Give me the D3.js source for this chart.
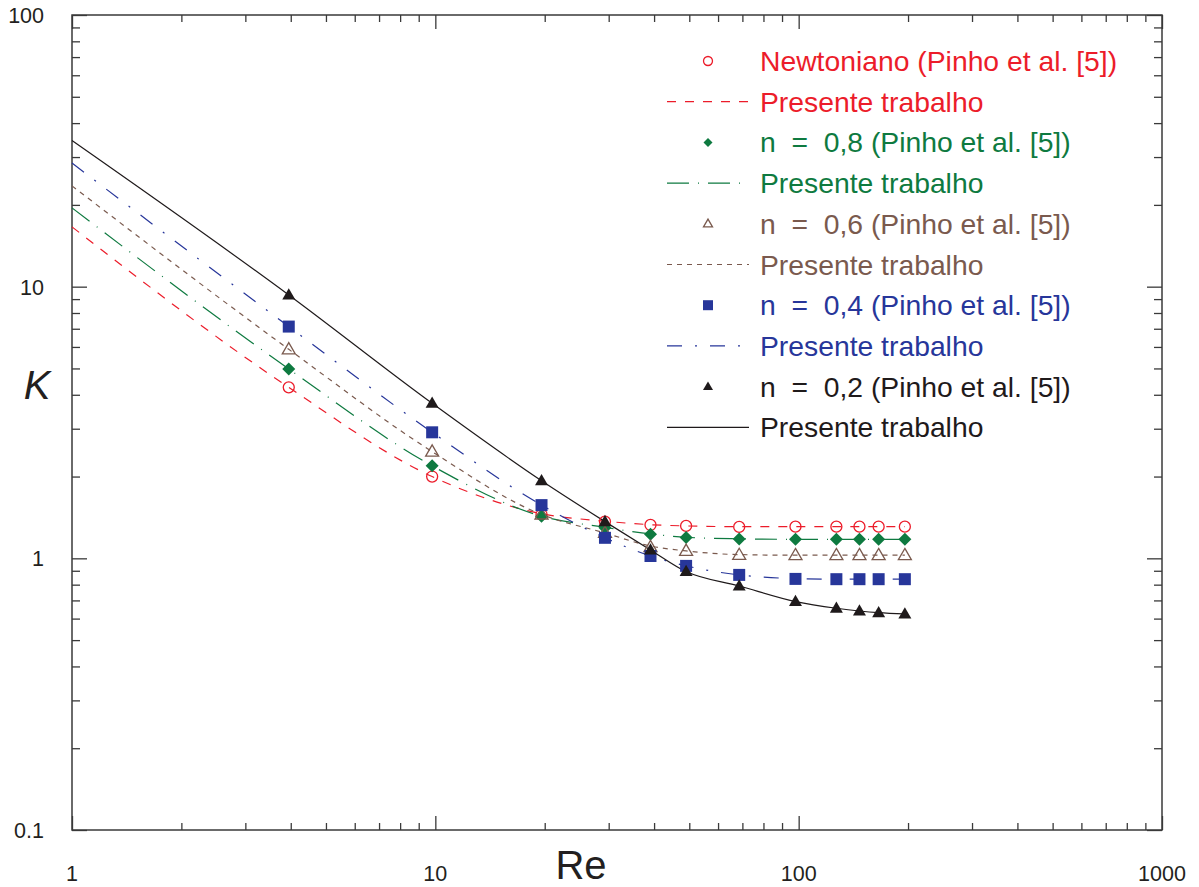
<!DOCTYPE html>
<html>
<head>
<meta charset="utf-8">
<script src="https://cdn.jsdelivr.net/npm/d3@7"></script>
<style>
  html, body { margin: 0; padding: 0; background: #fff; }
  svg { display: block; font-family: "Liberation Sans", Arial, sans-serif; }
  .leg { white-space: pre; }
</style>
</head>
<body>
<svg id="chart" width="1199" height="887"></svg>
<script>
// Reynolds numbers of the reference (Pinho et al.) data points
const reData = [3.95, 9.8, 19.6, 29.3, 39.1, 49, 68.6, 98, 127, 147, 166, 196];
// Reynolds numbers where the present-work curves are sampled
const reSim = [1, 3.95, 9.8, 19.6, 29.3, 39.1, 49, 68.6, 98, 127, 147, 166, 196];

// K values, reference data
const kNewt = [4.26, 2.00, 1.45, 1.365, 1.327, 1.316, 1.305, 1.308, 1.308, 1.308, 1.308, 1.308];
const kN08  = [4.98, 2.19, 1.43, 1.297, 1.227, 1.192, 1.179, 1.175, 1.175, 1.175, 1.175, 1.175];
const kN06  = [5.88, 2.47, 1.45, 1.24, 1.10, 1.065, 1.029, 1.027, 1.027, 1.027, 1.027, 1.027];
const kN04  = [7.13, 2.91, 1.57, 1.19, 1.02, 0.938, 0.869, 0.840, 0.838, 0.838, 0.838, 0.838];
const kN02  = [9.32, 3.72, 1.93, 1.365, 1.074, 0.894, 0.791, 0.693, 0.655, 0.640, 0.631, 0.624];

// K values, present work
const simNewt = [16.6, 4.26, 2.00, 1.46, 1.37, 1.33, 1.316, 1.308, 1.308, 1.308, 1.308, 1.308, 1.308];
const simN08  = [19.5, 4.98, 2.19, 1.43, 1.30, 1.23, 1.195, 1.18, 1.175, 1.175, 1.175, 1.175, 1.175];
const simN06  = [23.5, 5.88, 2.47, 1.45, 1.24, 1.11, 1.065, 1.032, 1.027, 1.027, 1.027, 1.027, 1.027];
const simN04  = [28.5, 7.13, 2.91, 1.57, 1.19, 1.02, 0.938, 0.869, 0.842, 0.838, 0.838, 0.838, 0.838];
const simN02  = [34.5, 9.32, 3.72, 1.93, 1.365, 1.074, 0.894, 0.791, 0.693, 0.655, 0.640, 0.631, 0.624];

const xTickLabels = ["1", "10", "100", "1000"];
const yTickLabels = ["0.1", "1", "10", "100"];

const legendLabels = [
  "Newtoniano (Pinho et al. [5])", "Presente trabalho",
  "n  =  0,8 (Pinho et al. [5])", "Presente trabalho",
  "n  =  0,6 (Pinho et al. [5])", "Presente trabalho",
  "n  =  0,4 (Pinho et al. [5])", "Presente trabalho",
  "n  =  0,2 (Pinho et al. [5])", "Presente trabalho"
];

const colors = { red: "#ec1c2a", green: "#0e7a40", brown: "#7a5a4e", blue: "#27369a", black: "#1f1a1b" };

const series = [
  { k: kNewt, sim: simNewt, color: colors.red,   marker: "circle",   dash: "9,9" },
  { k: kN08,  sim: simN08,  color: colors.green, marker: "diamond",  dash: "22,9,1,9" },
  { k: kN06,  sim: simN06,  color: colors.brown, marker: "triOpen",  dash: "5,5" },
  { k: kN04,  sim: simN04,  color: colors.blue,  marker: "square",   dash: "15,13,2,13" },
  { k: kN02,  sim: simN02,  color: colors.black, marker: "triangle", dash: null }
];

const svg = d3.select("#chart");
const plotLeft = 72, plotRight = 1162, plotTop = 15, plotBottom = 830;

const x = d3.scaleLog().domain([1, 1000]).range([plotLeft, plotRight]);
const y = d3.scaleLog().domain([0.1, 100]).range([plotBottom, plotTop]);

const axisColor = "#3a3a3a";

// tick values (decades and their minor subdivisions)
const xMinor = [], yMinor = [];
for (let d = 1; d < 1000; d *= 10) for (let m = 2; m <= 9; m++) xMinor.push(d * m);
for (let d = 0.1; d < 99; d *= 10) for (let m = 2; m <= 9; m++) yMinor.push(+(d * m).toPrecision(3));
const xMajor = [1, 10, 100, 1000], yMajor = [0.1, 1, 10, 100];

// axes drawn with inward ticks on all four sides
const gAx = svg.append("g");
gAx.append("g").attr("transform", `translate(0,${plotBottom})`)
  .call(d3.axisTop(x).tickValues(xMinor).tickSize(7).tickFormat(""));
gAx.append("g").attr("transform", `translate(0,${plotBottom})`)
  .call(d3.axisTop(x).tickValues(xMajor).tickSize(14).tickFormat(""));
gAx.append("g").attr("transform", `translate(0,${plotTop})`)
  .call(d3.axisBottom(x).tickValues(xMinor).tickSize(7).tickFormat(""));
gAx.append("g").attr("transform", `translate(0,${plotTop})`)
  .call(d3.axisBottom(x).tickValues(xMajor).tickSize(14).tickFormat(""));
gAx.append("g").attr("transform", `translate(${plotLeft},0)`)
  .call(d3.axisRight(y).tickValues(yMinor).tickSize(8).tickFormat(""));
gAx.append("g").attr("transform", `translate(${plotLeft},0)`)
  .call(d3.axisRight(y).tickValues(yMajor).tickSize(15).tickFormat(""));
gAx.append("g").attr("transform", `translate(${plotRight},0)`)
  .call(d3.axisLeft(y).tickValues(yMinor).tickSize(8).tickFormat(""));
gAx.append("g").attr("transform", `translate(${plotRight},0)`)
  .call(d3.axisLeft(y).tickValues(yMajor).tickSize(15).tickFormat(""));
gAx.selectAll("path.domain").remove();
gAx.selectAll("line").attr("stroke", axisColor).attr("stroke-width", 1.3);

// frame
svg.append("rect").attr("x", plotLeft).attr("y", plotTop)
  .attr("width", plotRight - plotLeft).attr("height", plotBottom - plotTop)
  .attr("fill", "none").attr("stroke", axisColor).attr("stroke-width", 1.5);

// tick labels
svg.append("g").selectAll("text").data(xMajor).join("text")
  .attr("x", d => x(d)).attr("y", 881)
  .attr("text-anchor", "middle").attr("font-size", 21.5).attr("fill", "#231f20")
  .text((d, i) => xTickLabels[i]);
svg.append("g").selectAll("text").data(yMajor).join("text")
  .attr("x", 44).attr("y", d => y(d) + 8)
  .attr("text-anchor", "end").attr("font-size", 21.5).attr("fill", "#231f20")
  .text((d, i) => yTickLabels[i]);

// axis titles
svg.append("text").attr("x", 581).attr("y", 879).attr("text-anchor", "middle")
  .attr("font-size", 40).attr("fill", "#231f20").text("Re");
svg.append("text").attr("x", 37).attr("y", 399).attr("text-anchor", "middle")
  .attr("font-size", 40).attr("font-style", "italic").attr("fill", "#231f20").text("K");

// marker symbol paths
function markerPath(type, s) {
  switch (type) {
    case "circle": return d3.symbol(d3.symbolCircle, s * s * 0.785)();
    case "diamond": return `M0,${-s/2}L${s/2},0L0,${s/2}L${-s/2},0Z`;
    case "square": return `M${-s/2},${-s/2}h${s}v${s}h${-s}Z`;
    default: {
      const h = s * 0.866;
      return `M0,${-h*0.6}L${s/2},${h*0.4}L${-s/2},${h*0.4}Z`;
    }
  }
}
function styleMarker(sel, d) {
  if (d.marker === "circle" || d.marker === "triOpen") {
    sel.attr("fill", "#fff").attr("fill-opacity", 0).attr("stroke", d.color).attr("stroke-width", 1.3);
  } else {
    sel.attr("fill", d.color).attr("stroke", "none");
  }
}
const markerSize = { circle: 11, diamond: 13, square: 12, triOpen: 13, triangle: 13 };

// present-work curves
const line = d3.line().x(d => x(d[0])).y(d => y(d[1])).curve(d3.curveMonotoneX);
const gLines = svg.append("g");
series.forEach(s => {
  gLines.append("path")
    .attr("d", line(reSim.map((r, i) => [r, s.sim[i]])))
    .attr("fill", "none").attr("stroke", s.color).attr("stroke-width", 1.2)
    .attr("stroke-dasharray", s.dash);
});

// reference data markers
const gMarks = svg.append("g");
series.forEach(s => {
  gMarks.append("g").selectAll("path").data(reData.map((r, i) => [r, s.k[i]])).join("path")
    .attr("transform", d => `translate(${x(d[0])},${y(d[1])})`)
    .attr("d", markerPath(s.marker, markerSize[s.marker]))
    .each(function () { styleMarker(d3.select(this), s); });
});

// legend
const legend = svg.append("g");
const rowY0 = 61, rowDy = 40.7;
legendLabels.forEach((lab, i) => {
  const s = series[Math.floor(i / 2)];
  const cy = rowY0 + i * rowDy;
  if (i % 2 === 0) {
    const sz = { circle: 9, diamond: 9, square: 10, triOpen: 9, triangle: 10 }[s.marker];
    const m = legend.append("path")
      .attr("transform", `translate(708,${cy})`)
      .attr("d", markerPath(s.marker, sz));
    styleMarker(m, s);
  } else {
    legend.append("line")
      .attr("x1", 667).attr("x2", 749).attr("y1", cy).attr("y2", cy)
      .attr("stroke", s.color).attr("stroke-width", 1.2)
      .attr("stroke-dasharray", s.dash);
  }
  legend.append("text").attr("class", "leg").attr("x", 760).attr("y", cy + 10)
    .attr("font-size", 28.3).attr("fill", s.color).text(lab);
});
</script>
</body>
</html>
